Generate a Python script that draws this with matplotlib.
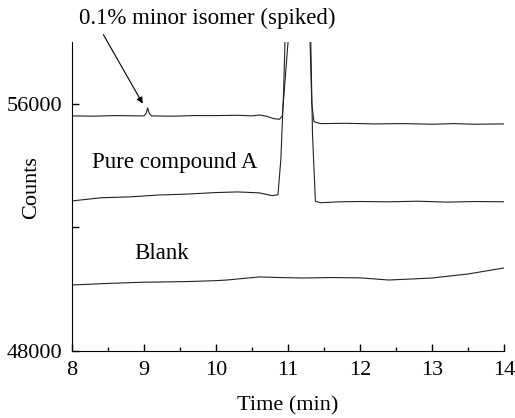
import numpy as np
import matplotlib
matplotlib.use("Agg")
import matplotlib.pyplot as plt

plt.rcParams['font.family'] = ['Liberation Serif', 'DejaVu Serif']

# spiked sample (0.1% minor isomer)
t_spk = [8.0, 8.3, 8.6, 8.9, 9.0, 9.03, 9.05, 9.07, 9.1, 9.4, 9.7, 10.0, 10.3, 10.5,
         10.6, 10.7, 10.8, 10.88, 10.92, 10.96, 11.0, 11.05, 11.25, 11.3, 11.33, 11.36,
         11.45, 11.8, 12.2, 12.6, 13.0, 13.3, 13.6, 14.0]
c_spk = [55610, 55600, 55620, 55610, 55610, 55700, 55870, 55700, 55610, 55600, 55620,
         55620, 55630, 55610, 55640, 55600, 55520, 55500, 55600, 56800, 58000, 70000,
         70000, 58500, 56000, 55420, 55360, 55370, 55350, 55360, 55340, 55360, 55340, 55350]

# pure compound A
t_pure = [8.0, 8.4, 8.8, 9.2, 9.6, 10.0, 10.3, 10.6, 10.78, 10.86, 10.9, 10.94, 10.98,
          11.05, 11.25, 11.3, 11.34, 11.38, 11.45, 11.7, 12.0, 12.4, 12.8, 13.2, 13.6, 14.0]
c_pure = [52860, 52960, 52990, 53050, 53080, 53130, 53150, 53120, 53030, 53060, 54200,
          56500, 60000, 70000, 70000, 60000, 55000, 52850, 52800, 52830, 52840, 52830,
          52850, 52820, 52840, 52830]

# blank
t_blank = [8.0, 8.5, 9.0, 9.2, 9.6, 10.0, 10.15, 10.6, 10.9, 11.2, 11.6, 12.0, 12.4,
           13.0, 13.5, 14.0]
c_blank = [50140, 50190, 50230, 50235, 50250, 50280, 50300, 50400, 50380, 50365, 50380,
           50370, 50300, 50365, 50495, 50690]

fig = plt.figure(figsize=(5.15, 4.18), dpi=100)
ax = fig.add_axes([0.140, 0.160, 0.8386, 0.7395])

for t, c in [(t_spk, c_spk), (t_pure, c_pure), (t_blank, c_blank)]:
    ax.plot(t, c, color='#222222', lw=0.8)

ax.set_xlim(8, 14)
ax.set_ylim(48000, 58000)
ax.set_xticks([8, 9, 10, 11, 12, 13, 14])
ax.set_xticks(np.arange(8.5, 14, 1.0), minor=True)
ax.set_yticks([48000, 52000, 56000])
ax.set_yticklabels(['48000', '', '56000'])
ax.tick_params(direction='in', labelsize=16, length=5, width=1)
ax.tick_params(axis='x', pad=7)
ax.tick_params(axis='y', pad=7)
ax.tick_params(which='minor', direction='in', length=3, width=1)
ax.spines['top'].set_visible(False)
ax.spines['right'].set_visible(False)

ax.set_xlabel('Time (min)', fontsize=16)
ax.xaxis.set_label_coords(0.5, -0.145)
ax.set_ylabel('Counts', fontsize=16)
ax.yaxis.set_label_coords(-0.071, 0.53)

fig.text(0.402, 0.957, '0.1% minor isomer (spiked)', fontsize=16.5,
         ha='center', va='center')
ax.annotate('', xy=(9.0, 55930), xytext=(0.198, 0.923), textcoords='figure fraction',
            arrowprops=dict(arrowstyle='-|>', lw=0.8, color='k', mutation_scale=9),
            annotation_clip=False)
ax.text(8.28, 54100, 'Pure compound A', fontsize=16.5, va='center')
ax.text(8.86, 51150, 'Blank', fontsize=16.5, va='center')

fig.savefig('out.png')
